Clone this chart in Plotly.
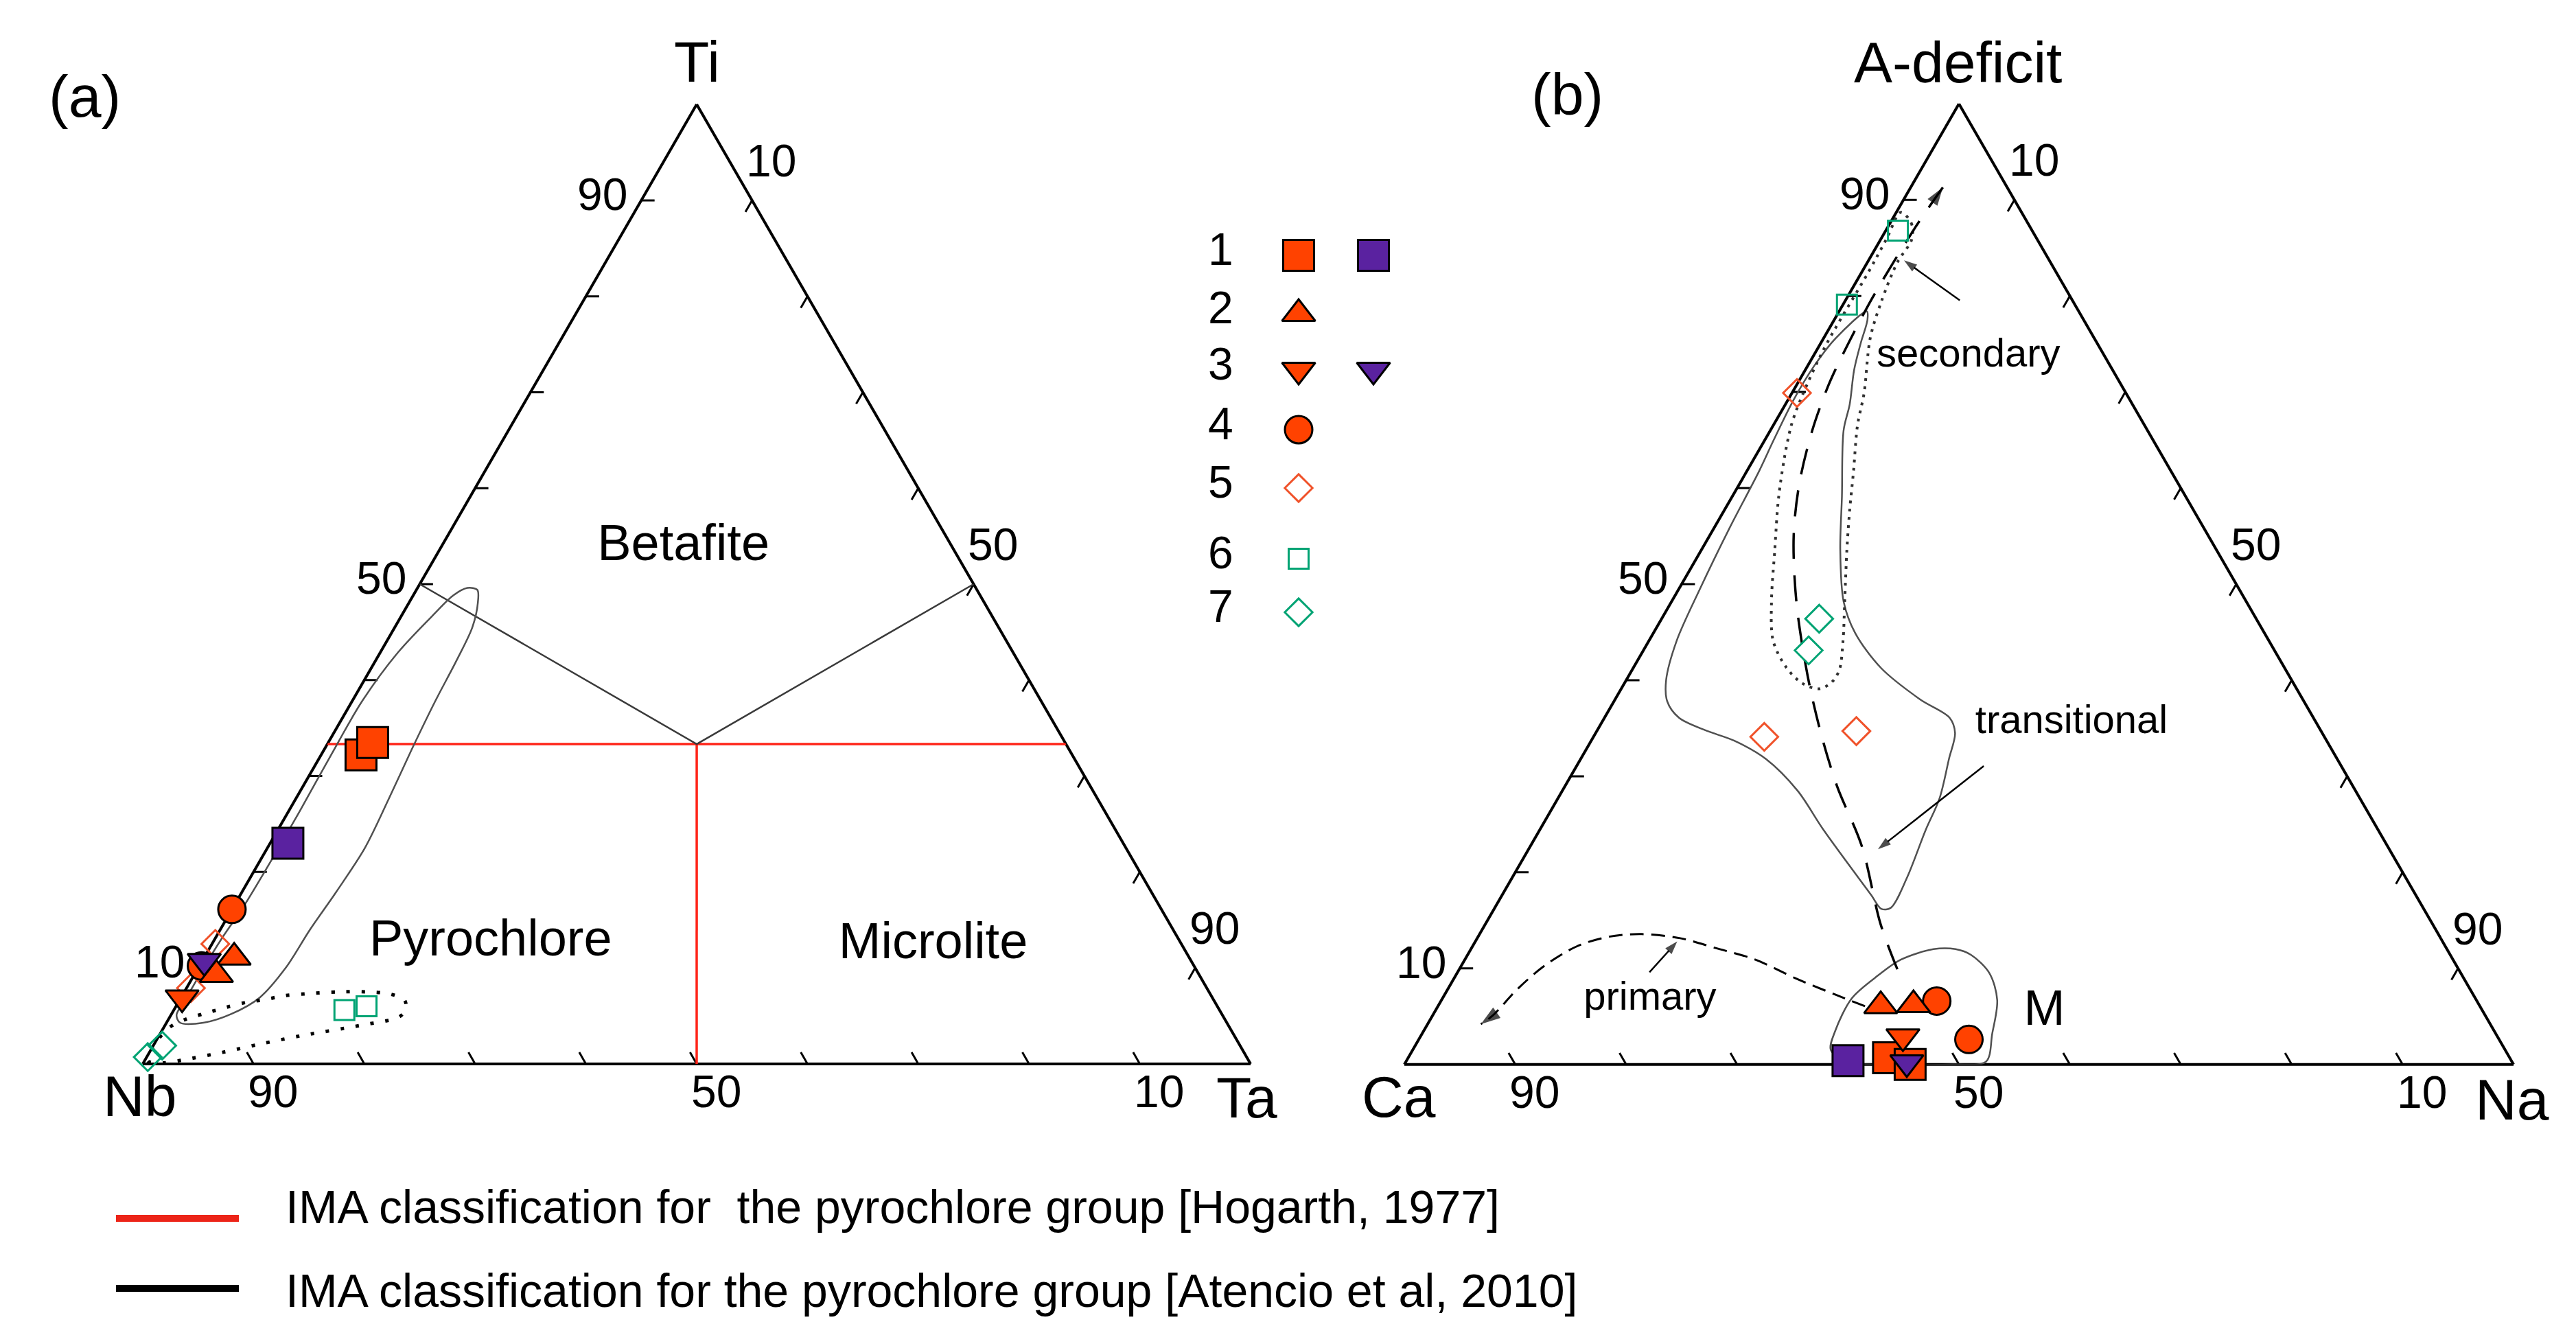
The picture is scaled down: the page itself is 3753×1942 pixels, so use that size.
import math
import plotly.graph_objects as go

W, H = 3753, 1942
FONT = "Liberation Sans, Arial, Helvetica, sans-serif"

# ---------------- data ----------------
# Panel (a): (Ti, Nb, Ta) in %
A_T1_RED = [(32.2, 64.2, 3.6), (33.5, 62.5, 4.0)]
A_T1_PURPLE = [(23.0, 75.4, 1.6)]
A_T2_RED = [(11.1, 86.2, 2.7), (9.3, 88.7, 2.0)]
A_T3_RED = [(6.9, 93.0, 0.1)]
A_T3_PURPLE = [(10.7, 89.1, 0.2)]
A_T4_RED = [(16.1, 83.9, 0.0), (10.2, 89.6, 0.2)]
A_T5 = [(12.5, 87.2, 0.3), (7.9, 91.7, 0.4)]
A_T5_SMALL = [(9.5, 90.4, 0.1)]
A_T6 = [(5.6, 79.0, 15.4), (6.0, 76.8, 17.2)]
A_T7 = [(1.9, 97.3, 0.8), (0.7, 99.2, 0.1)]

# Panel (b): (A-deficit, Ca, Na) in %
B_T1_RED = [(0.7, 56.0, 43.3), (0.0, 54.4, 45.6)]
B_T1_PURPLE = [(0.4, 59.8, 39.8)]
B_T2_RED = [(6.1, 54.0, 39.9), (6.2, 51.0, 42.8)]
B_T3_RED = [(2.9, 53.6, 43.5)]
B_T3_PURPLE = [(0.2, 54.6, 45.2)]
B_T4_RED = [(6.6, 48.7, 44.7), (2.6, 47.8, 49.6)]
B_T5 = [(69.9, 29.65, 0.45), (34.1, 50.5, 15.4), (34.7, 41.9, 23.4)]
B_T6 = [(86.8, 12.1, 1.1), (79.1, 20.55, 0.35)]
B_T7 = [(46.4, 39.4, 14.2), (43.1, 42.0, 14.9)]

# classification boundaries, panel (a): (Ti, Nb, Ta)
HOGARTH_H = [(33.33, 66.67, 0.0), (33.33, 0.0, 66.67)]
HOGARTH_V = [(33.33, 33.33, 33.34), (0.0, 50.0, 50.0)]
ATENCIO = [(50.0, 50.0, 0.0), (33.33, 33.33, 33.34), (50.0, 0.0, 50.0)]

# field outlines given as (top, right) pairs; left = 100 - top - right
A_FIELD_SOLID = [(49.4, 5.5), (48.1, 6.2), (45.5, 7.0), (42.1, 7.3), (37.8, 7.5), (32.7, 7.9),
                 (27.6, 8.4), (22.5, 8.8), (17.9, 8.5), (14.0, 8.1), (10.0, 7.9), (6.9, 7.1),
                 (5.2, 5.4), (4.3, 3.4), (4.3, 1.2), (5.1, 0.5), (6.7, 0.5), (10.2, 0.5),
                 (13.1, 0.6), (16.4, 0.9), (21.2, 1.0), (26.3, 1.0), (32.2, 0.9), (37.8, 0.9),
                 (42.9, 1.6), (47.0, 2.9), (48.8, 3.6), (49.6, 4.5), (49.4, 5.5)]
A_FIELD_DOTTED = [(0.3, 0.3), (1.4, 0.1), (2.5, 0.1), (3.8, 0.5), (4.7, 1.65), (5.3, 3.1),
                  (5.9, 4.6), (6.4, 6.1), (6.7, 7.7), (7.1, 9.2), (7.3, 11.0), (7.5, 14.0),
                  (7.5, 16.4), (7.3, 18.6), (6.65, 20.3), (5.7, 20.9), (4.9, 20.7), (4.0, 17.6),
                  (2.95, 12.9), (2.1, 9.7), (1.2, 6.6), (0.4, 3.4), (0.1, 1.8), (0.3, 0.3)]

B_TRANSITIONAL = [(78.4, 2.5), (75.6, 1.1), (72.8, 0.6), (69.2, 0.5), (65.0, 0.8), (61.8, 1.1),
                  (55.8, 1.4), (49.5, 1.9), (44.1, 2.5), (40.0, 3.6), (37.8, 4.8), (36.1, 6.7),
                  (34.8, 9.7), (33.7, 12.9), (31.8, 16.7), (28.5, 21.2), (24.4, 25.6),
                  (17.7, 33.2), (16.2, 34.9), (16.3, 35.7), (19.4, 35.6), (24.4, 34.8),
                  (27.7, 34.4), (31.8, 33.2), (34.5, 32.4), (36.1, 31.1), (38.0, 27.5),
                  (41.3, 22.3), (44.9, 18.2), (48.2, 15.5), (53.6, 12.5), (59.1, 9.9),
                  (66.0, 6.6), (68.7, 5.8), (72.3, 4.4), (75.1, 3.6), (77.5, 3.0), (78.4, 2.5)]
B_SECONDARY = [(88.7, 0.4), (87.6, 1.9), (85.9, 2.8), (83.5, 2.7), (79.4, 3.3), (75.6, 4.2),
               (69.9, 6.5), (66.5, 7.6), (61.8, 9.6), (57.7, 11.3), (53.6, 13.1), (48.2, 15.6),
               (44.1, 17.5), (41.0, 18.7), (39.7, 18.6), (39.1, 17.8), (39.7, 16.0),
               (41.3, 13.8), (44.1, 11.2), (48.2, 9.0), (53.6, 6.6), (59.1, 4.2), (64.6, 2.2),
               (67.5, 1.4), (74.2, 0.6), (82.5, 0.6), (86.0, 0.5), (88.7, 0.4)]
B_M_FIELD = [(1.5, 37.7), (3.5, 37.1), (6.9, 36.9), (9.3, 38.1), (10.9, 39.3), (12.0, 41.7),
             (12.0, 43.7), (11.4, 45.4), (9.5, 48.0), (6.7, 50.1), (3.2, 51.4), (0.3, 52.3),
             (0.0, 49.5), (0.0, 44.0), (0.2, 40.0), (1.5, 37.7)]
B_TREND = [(9.9, 39.5), (14.65, 35.6), (22.7, 29.9), (29.0, 24.5), (34.5, 20.3), (40.5, 16.1),
           (48.1, 11.3), (55.0, 7.6), (60.4, 5.4), (65.9, 3.8), (70.6, 2.9), (73.6, 2.6),
           (79.8, 2.3), (87.2, 2.5), (91.3, 2.9)]
B_PRIMARY = [(6.06, 38.5), (7.24, 35.3), (8.92, 30.9), (10.94, 26.1), (12.12, 22.0),
             (13.14, 18.3), (13.57, 14.6), (13.3, 11.8), (12.29, 9.4), (10.27, 7.5),
             (7.91, 6.3), (5.04, 5.4), (4.2, 4.8)]
B_ARROW_SECONDARY = [(79.55, 10.3), (83.7, 3.2)]
B_ARROW_TRANSITIONAL = [(31.07, 36.7), (22.4, 31.5)]
B_ARROW_PRIMARY = [(9.6, 17.3), (12.8, 18.2)]

# field labels (text, top, right)
A_LABELS = [("Betafite", 53.8, 21.9), ("Pyrochlore", 12.6, 25.1), ("Microlite", 12.3, 65.2)]
B_LABELS = [("secondary", 73.7, 14.0), ("transitional", 35.5, 42.4), ("primary", 6.7, 18.8)]
B_LABEL_M = ("M", 5.4, 55.0)

# vertex names with their (top, right) anchor, just outside each vertex
A_VERTICES = [("Ti", 103.6, -1.8), ("Nb", -4.15, 1.8), ("Ta", -4.3, 101.8)]
B_VERTICES = [("A-deficit", 103.5, -1.85), ("Ca", -4.2, 1.6), ("Na", -4.5, 102.1)]

TICK_VALUES = [10, 20, 30, 40, 50, 60, 70, 80, 90]
TICK_LABEL_VALUES = [10, 50, 90]

LEGEND_NUMBERS = ["1", "2", "3", "4", "5", "6", "7"]
LEGEND_TEXT = ["IMA classification for  the pyrochlore group [Hogarth, 1977]",
               "IMA classification for the pyrochlore group [Atencio et al, 2010]"]

# ---------------- styles / layout ----------------
RED = "#ff4200"
PURPLE = "#5a22a0"
GREEN = "#00a373"
OPEN_RED = "#f0522a"
HOG_RED = "#ff2418"
GREY = "#505050"
TRI = 42

DOMAINS = {
    "ternary": dict(x=[200 / W, 1814 / W], y=[1 - 1543 / H, 1 - 143 / H]),
    "ternary2": dict(x=[2038 / W, 3654 / W], y=[1 - 1543 / H, 1 - 143 / H]),
}


def to_page(sub, a, c):
    """Page-pixel position of a ternary point (same geometry plotly uses)."""
    d = DOMAINS[sub]
    wmax = (d["x"][1] - d["x"][0]) * W
    hmax = (d["y"][1] - d["y"][0]) * H
    w_over_h = 2 / math.sqrt(3)
    if wmax > w_over_h * hmax:
        h = hmax; w = h * w_over_h
    else:
        w = wmax; h = w / w_over_h
    x0 = (d["x"][0] + d["x"][1]) / 2 * W - w / 2
    ybase = (1 - (d["y"][0] + d["y"][1]) / 2) * H + h / 2
    return x0 + (c + a / 2) / 100 * w, ybase - a / 100 * h


def split3(pts):
    return [p[0] for p in pts], [p[1] for p in pts], [p[2] for p in pts]


def split2(pts):
    a = [p[0] for p in pts]
    c = [p[1] for p in pts]
    b = [100 - x - y for x, y in pts]
    return a, b, c


fig = go.Figure()
annotations = []


def marker_trace(sub, pts, symbol, size, color, line_color="black", line_width=3):
    a, b, c = split3(pts)
    fig.add_trace(go.Scatterternary(
        a=a, b=b, c=c, subplot=sub, mode="markers", cliponaxis=False, showlegend=False,
        hoverinfo="skip",
        marker=dict(symbol=symbol, size=size, color=color,
                    line=dict(color=line_color, width=line_width))))


def line_trace(sub, pts, color, width, dash="solid", shape="linear", three=False,
               arrow_size=0):
    a, b, c = split3(pts) if three else split2(pts)
    marker = None
    mode = "lines"
    if arrow_size:
        mode = "lines+markers"
        sizes = [0] * (len(a) - 1) + [arrow_size]
        marker = dict(symbol="arrow", size=sizes, color=color, angleref="previous",
                      line=dict(width=0))
    fig.add_trace(go.Scatterternary(
        a=a, b=b, c=c, subplot=sub, mode=mode, cliponaxis=False, showlegend=False,
        hoverinfo="skip", marker=marker,
        line=dict(color=color, width=width, dash=dash, shape=shape, smoothing=0.9)))


def tick_trace(sub, L=1.2):
    a, b, c = [], [], []
    for v in TICK_VALUES:
        a += [v, v, None];            b += [100 - v, 100 - v - L, None]; c += [0, L, None]
        a += [0, L, None];            b += [v, v, None];                 c += [100 - v, 100 - v - L, None]
        a += [100 - v, 100 - v - L, None]; b += [0, L, None];            c += [v, v, None]
    fig.add_trace(go.Scatterternary(a=a, b=b, c=c, subplot=sub, mode="lines",
                                    cliponaxis=False, showlegend=False, hoverinfo="skip",
                                    line=dict(color="black", width=3)))


def page_text(x, y, text, size, dy_em=0.135):
    annotations.append(dict(x=x, y=y - dy_em * size, xref="x", yref="y", text=text,
                            showarrow=False, xanchor="center", yanchor="middle",
                            font=dict(family=FONT, size=size, color="black")))


def tick_labels(sub, k=3.5, size=66):
    # labels sit on the outward extension of each grid line
    for v in TICK_LABEL_VALUES:
        for a, c in [(v, -k), (-k, 100 - v + k), (100 - v + k, v)]:
            x, y = to_page(sub, a, c)
            page_text(x, y, str(v), size)


def vertex_titles(sub, names, size=84):
    for t, a, c in names:
        x, y = to_page(sub, a, c)
        page_text(x, y, t, size)


def text_trace(sub, labels, size):
    a = [l[1] for l in labels]
    c = [l[2] for l in labels]
    b = [100 - x - y for x, y in zip(a, c)]
    fig.add_trace(go.Scatterternary(a=a, b=b, c=c, subplot=sub, mode="text",
                                    text=[l[0] for l in labels], textposition="middle center",
                                    cliponaxis=False, showlegend=False, hoverinfo="skip",
                                    textfont=dict(family=FONT, size=size, color="black")))


# ---- panel (a) ----
tick_trace("ternary")
tick_labels("ternary")
vertex_titles("ternary", A_VERTICES)
line_trace("ternary", HOGARTH_H, HOG_RED, 3.5, three=True)
line_trace("ternary", HOGARTH_V, HOG_RED, 3.5, three=True)
line_trace("ternary", ATENCIO, "#3a3a3a", 2.5, three=True)
line_trace("ternary", A_FIELD_SOLID, GREY, 2.5, shape="spline")
line_trace("ternary", A_FIELD_DOTTED, "black", 5, dash="5px,17px", shape="spline")
text_trace("ternary", A_LABELS, 74)
marker_trace("ternary", A_T7, "diamond-open", 31, GREEN, GREEN, 3)
marker_trace("ternary", A_T6, "square-open", 29, GREEN, GREEN, 3)
marker_trace("ternary", A_T5_SMALL, "diamond-open", 14, OPEN_RED, OPEN_RED, 2.5)
marker_trace("ternary", A_T5, "diamond-open", 31, OPEN_RED, OPEN_RED, 3)
marker_trace("ternary", A_T4_RED, "circle", 40, RED)
marker_trace("ternary", A_T2_RED, "triangle-up", TRI, RED)
marker_trace("ternary", A_T3_RED, "triangle-down", TRI, RED)
marker_trace("ternary", A_T3_PURPLE, "triangle-down", TRI, PURPLE)
marker_trace("ternary", A_T1_PURPLE, "square", 45, PURPLE)
marker_trace("ternary", A_T1_RED, "square", 45, RED)

# ---- panel (b) ----
tick_trace("ternary2")
tick_labels("ternary2")
vertex_titles("ternary2", B_VERTICES)
line_trace("ternary2", B_TRANSITIONAL, GREY, 2.5, shape="spline")
line_trace("ternary2", B_SECONDARY, "#303030", 4, dash="4px,8px", shape="spline")
line_trace("ternary2", B_M_FIELD, GREY, 2.5, shape="spline")
line_trace("ternary2", B_TREND, "black", 3.5, dash="38px,24px", shape="spline", arrow_size=28)
line_trace("ternary2", B_PRIMARY, "black", 3, dash="20px,11px", shape="spline", arrow_size=30)
line_trace("ternary2", B_ARROW_SECONDARY, "black", 2.5, arrow_size=20)
line_trace("ternary2", B_ARROW_TRANSITIONAL, "black", 2.5, arrow_size=20)
line_trace("ternary2", B_ARROW_PRIMARY, "black", 2.5, arrow_size=20)
text_trace("ternary2", B_LABELS, 58)
text_trace("ternary2", [B_LABEL_M], 72)
marker_trace("ternary2", B_T7, "diamond-open", 31, GREEN, GREEN, 3)
marker_trace("ternary2", B_T6, "square-open", 29, GREEN, GREEN, 3)
marker_trace("ternary2", B_T5, "diamond-open", 31, OPEN_RED, OPEN_RED, 3)
marker_trace("ternary2", B_T4_RED, "circle", 40, RED)
marker_trace("ternary2", B_T2_RED, "triangle-up", TRI, RED)
marker_trace("ternary2", B_T1_PURPLE, "square", 45, PURPLE)
marker_trace("ternary2", B_T1_RED, "square", 45, RED)
marker_trace("ternary2", B_T3_RED, "triangle-down", TRI, RED)
marker_trace("ternary2", B_T3_PURPLE, "triangle-down", TRI, PURPLE)

# ---- symbol key (page-pixel overlay axes) ----
KEY_NUM_X = 1770
KEY_COL1_X = 1884
KEY_COL2_X = 1993
KEY_ROWS_Y = [364, 449, 531, 618, 703, 806, 884]
key_styles = [
    [("square", 45, RED, "black", 3), ("square", 45, PURPLE, "black", 3)],
    [("triangle-up", TRI, RED, "black", 3)],
    [("triangle-down", TRI, RED, "black", 3), ("triangle-down", TRI, PURPLE, "black", 3)],
    [("circle", 40, RED, "black", 3)],
    [("diamond-open", 31, OPEN_RED, OPEN_RED, 3)],
    [("square-open", 29, GREEN, GREEN, 3)],
    [("diamond-open", 31, GREEN, GREEN, 3)],
]
for y, styles in zip(KEY_ROWS_Y, key_styles):
    for x, (sym, sz, col, lc, lw) in zip([KEY_COL1_X, KEY_COL2_X], styles):
        fig.add_trace(go.Scatter(x=[x], y=[y], mode="markers", showlegend=False,
                                 hoverinfo="skip", xaxis="x", yaxis="y",
                                 marker=dict(symbol=sym, size=sz, color=col,
                                             line=dict(color=lc, width=lw))))

for y, t in zip(KEY_ROWS_Y, LEGEND_NUMBERS):
    page_text(KEY_NUM_X, y, t, 66)

# bottom line key
LINE_KEY_X = [161, 340]
LINE_KEY_Y = [1767, 1869]
LINE_KEY_TEXT_X = 406
LINE_KEY_TEXT_Y = [1750, 1872]
for y, ty, col, txt in zip(LINE_KEY_Y, LINE_KEY_TEXT_Y, ["#ec2418", "black"], LEGEND_TEXT):
    fig.add_trace(go.Scatter(x=LINE_KEY_X, y=[y, y], mode="lines", showlegend=False,
                             hoverinfo="skip", line=dict(color=col, width=10)))
    annotations.append(dict(x=LINE_KEY_TEXT_X, y=ty, xref="x", yref="y", text=txt,
                            showarrow=False, xanchor="left", yanchor="middle",
                            font=dict(family=FONT, size=68, color="black")))

page_text(115, 144, "(a)", 86)
page_text(2275, 141, "(b)", 86)


def tern_axis():
    return dict(title=dict(text=""), min=0, showticklabels=False, ticks="",
                showgrid=False, linecolor="black", linewidth=4, layer="below traces")


fig.update_layout(
    width=W, height=H, margin=dict(l=0, r=0, t=0, b=0),
    paper_bgcolor="white", plot_bgcolor="rgba(0,0,0,0)",
    showlegend=False, hovermode=False,
    xaxis=dict(range=[0, W], domain=[0, 1], visible=False, fixedrange=True),
    yaxis=dict(range=[H, 0], domain=[0, 1], visible=False, fixedrange=True),
    ternary=dict(sum=100, bgcolor="rgba(0,0,0,0)", domain=DOMAINS["ternary"],
                 aaxis=tern_axis(), baxis=tern_axis(), caxis=tern_axis()),
    ternary2=dict(sum=100, bgcolor="rgba(0,0,0,0)", domain=DOMAINS["ternary2"],
                  aaxis=tern_axis(), baxis=tern_axis(), caxis=tern_axis()),
    annotations=annotations,
)

fig.write_html("out.html", config={"displayModeBar": False})
